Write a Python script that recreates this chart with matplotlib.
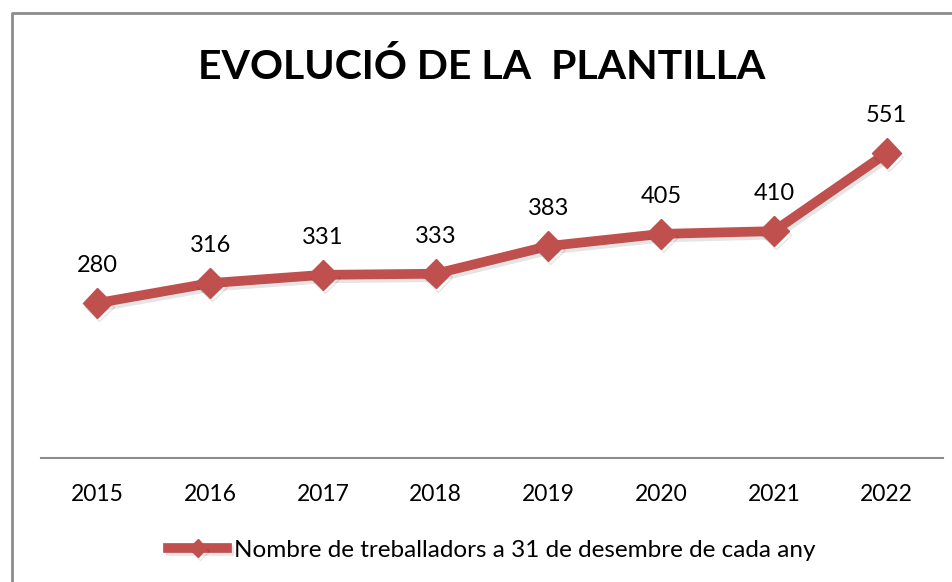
import matplotlib.pyplot as plt
import matplotlib.patheffects as pe
from matplotlib.lines import Line2D

# Dades
anys = ['2015', '2016', '2017', '2018', '2019', '2020', '2021', '2022']
treballadors = [280, 316, 331, 333, 383, 405, 410, 551]
titol = 'EVOLUCIÓ DE LA  PLANTILLA'
llegenda = 'Nombre de treballadors a 31 de desembre de cada any'

plt.rcParams['font.family'] = ['Lato', 'DejaVu Sans']
vermell = '#C0504D'

W, H = 953, 582
fig = plt.figure(figsize=(W / 100, H / 100), dpi=100)
ax = fig.add_axes([41 / W, (H - 458) / H, 902 / W, 332 / H])

x = range(len(anys))
ax.plot(x, treballadors, color=vermell, lw=7, marker='D', markersize=15,
        solid_joinstyle='miter', label=llegenda,
        path_effects=[pe.SimpleLineShadow(offset=(1.5, -2.5), alpha=0.1), pe.Normal()])

for i, v in zip(x, treballadors):
    ax.annotate(str(v), (i, v), xytext=(0, 27), textcoords='offset points',
                ha='center', va='center', fontsize=17)

ax.set_xlim(-0.5, len(anys) - 0.5)
ax.set_ylim(0, 600)
ax.set_xticks(list(x))
ax.set_xticklabels(anys, fontsize=16.5)
ax.tick_params(axis='x', length=0, pad=19)
ax.set_yticks([])
for s in ['top', 'right', 'left']:
    ax.spines[s].set_visible(False)
ax.spines['bottom'].set_color('#8c8c8c')
ax.spines['bottom'].set_linewidth(1.5)

fig.text(482 / W, 1 - 67 / H, titol, ha='center', va='center',
         fontsize=29.5, fontweight='bold')

fig.legend(loc='center', bbox_to_anchor=(492 / W, 1 - 550 / H), frameon=False,
           fontsize=17.5, handlelength=2.4, handletextpad=0.3, markerscale=0.6)

# vora del gràfic
fig.add_artist(Line2D([12 / W, 12 / W, 1], [0, 1 - 13 / H, 1 - 13 / H],
                      transform=fig.transFigure, color='#8c8c8c', lw=2))

fig.savefig('out.png', dpi=100)
